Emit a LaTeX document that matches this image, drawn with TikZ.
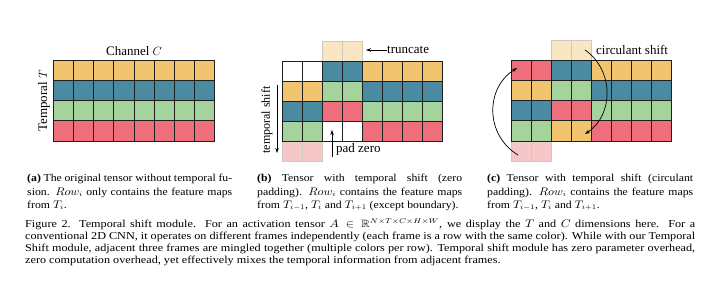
\documentclass[tikz,border=0pt]{standalone}
\usepackage{graphicx}
\usepackage{fontspec}
\setmainfont{Liberation Serif}
\usepackage{amssymb}
\usetikzlibrary{arrows.meta}
\definecolor{cY}{HTML}{F3C46F}
\definecolor{cB}{HTML}{4B8BA1}
\definecolor{cG}{HTML}{A4D49B}
\definecolor{cR}{HTML}{EE6E7B}
\definecolor{cW}{HTML}{FFFFFF}
\definecolor{fY}{HTML}{F9E6C2}
\definecolor{fR}{HTML}{F5C7C9}
\definecolor{gridc}{HTML}{1E1E1E}
\definecolor{fadec}{HTML}{CFC8BC}
\def\cw{20.1}
\newcommand\drawtensor[3]{%
  \foreach \c [count=\k from 0] in {#3}{%
    \pgfmathtruncatemacro\cx{mod(\k,8)}%
    \pgfmathtruncatemacro\ry{floor(\k/8)}%
    \filldraw[cellbox,fill=\c] ({#1+\cx*\cw},{#2+\ry*\cw}) rectangle ++(\cw,\cw);
  }}
\newcommand\fadecells[4]{% x0 y0 colour count
  \foreach \k in {1,...,#4}{%
    \filldraw[fadebox,fill=#3] ({#1+(\k-1)*\cw},{#2}) rectangle ++(\cw,\cw);
  }}
% caption lines: horizontally widened text, justified to a given width
\newcommand\subline[2]{\scalebox{1.11}[1]{\makebox[#1][s]{#2}}}
\newcommand\subnat[1]{\scalebox{1.11}[1]{#1}}
\newcommand\figline[1]{\scalebox{1.15}[1]{\makebox[582.6pt][s]{#1}}}
\newcommand\fignat[1]{\scalebox{1.15}[1]{#1}}
\tikzset{
  cellbox/.style={draw=gridc,line width=0.65pt},
  fadebox/.style={draw=fadec,line width=0.6pt},
  lbl/.style={inner sep=0pt,font=\fontsize{13}{15}\selectfont},
  subcap/.style={anchor=base west,inner sep=0pt,font=\fontsize{10.6}{13}\selectfont},
  figcap/.style={anchor=base west,inner sep=0pt,font=\fontsize{10.6}{13}\selectfont},
  arr/.style={-{Stealth[length=5pt,width=3.5pt]},line width=0.7pt,black}
}
\begin{document}
\begin{tikzpicture}[x=1pt,y=-1pt]
\useasboundingbox (0,0) rectangle (720,294);
\fill[white] (0,0) rectangle (720,294);
% ---------- panel (a)
\drawtensor{53.5}{60.5}{cY,cY,cY,cY,cY,cY,cY,cY,cB,cB,cB,cB,cB,cB,cB,cB,cG,cG,cG,cG,cG,cG,cG,cG,cR,cR,cR,cR,cR,cR,cR,cR}
\node[lbl] (chan) at (134,51) {Channel $C$};
\node[lbl,rotate=90] (temp) at (44,101) {Temporal $T$};
% ---------- panel (b)
\fadecells{322.2}{40.9}{fY}{2}
\fadecells{282}{141.4}{fR}{2}
\drawtensor{282}{61}{cW,cW,cB,cB,cY,cY,cY,cY,cY,cY,cG,cG,cB,cB,cB,cB,cB,cB,cR,cR,cG,cG,cG,cG,cG,cG,cW,cW,cR,cR,cR,cR}
\node[lbl,anchor=west] (trunc) at (387,50) {truncate};
\coordinate (truncend) at (366,50);
\draw[arr] (trunc.west) -- (truncend);
\node[lbl,anchor=west] (pad) at (336,149) {pad zero};
\coordinate (pz1) at (332,157);
\coordinate (pz2) at (332,130);
\draw[arr] (pz1) -- (pz2);
\node[inner sep=0pt,rotate=90,font=\fontsize{12}{14}\selectfont] (tshift) at (267,120) {temporal shift};
\coordinate (ts1) at (277,85);
\coordinate (ts2) at (277,153);
\draw[arr] (ts1) -- (ts2);
% ---------- panel (c)
\fadecells{551.2}{40.4}{fY}{2}
\fadecells{511}{140.9}{fR}{2}
\drawtensor{511}{60.5}{cR,cR,cB,cB,cY,cY,cY,cY,cY,cY,cG,cG,cB,cB,cB,cB,cB,cB,cR,cR,cG,cG,cG,cG,cG,cG,cY,cY,cR,cR,cR,cR}
\node[lbl,anchor=west] (circ) at (596,50) {circulant shift};
\coordinate (lb) at (518,155);
\coordinate (lt) at (517,68);
\draw[arr] (lb) .. controls (485,135) and (485,88) .. (lt);
\coordinate (rt) at (585,50);
\coordinate (rb) at (585,134);
\draw[arr] (rt) .. controls (614,70) and (614,115) .. (rb);
% ---------- sub captions
\node[subcap] (a1) at (27,181) {\subline{184.7pt}{\textbf{(a)} The original tensor without temporal fu-}};
\node[subcap] (a2) at (27,195) {\subline{184.7pt}{sion. $Row_i$ only contains the feature maps}};
\node[subcap] (a3) at (27,208) {\subnat{from $T_i$.}};
\node[subcap] (b1) at (257,181) {\subline{184.7pt}{\textbf{(b)} Tensor with temporal shift (zero}};
\node[subcap] (b2) at (257,195) {\subline{184.7pt}{padding). $Row_i$ contains the feature maps}};
\node[subcap] (b3) at (257,208) {\subnat{from $T_{i-1}$, $T_i$ and $T_{i+1}$ (except boundary).}};
\node[subcap] (c1) at (487,181) {\subline{185.6pt}{\textbf{(c)} Tensor with temporal shift (circulant}};
\node[subcap] (c2) at (487,195) {\subline{185.6pt}{padding). $Row_i$ contains the feature maps}};
\node[subcap] (c3) at (487,208) {\subnat{from $T_{i-1}$, $T_i$ and $T_{i+1}$.}};
% ---------- figure caption
\node[figcap] (f1) at (25,227.5) {\figline{Figure 2. Temporal shift module.\ \ For an activation tensor $A\in\mathbb{R}^{N\times T\times C\times H\times W}$, we display the $T$ and $C$ dimensions here.\ \ For a}};
\node[figcap] (f2) at (25,239.5) {\figline{conventional 2D CNN, it operates on different frames independently (each frame is a row with the same color). While with our Temporal}};
\node[figcap] (f3) at (25,251.5) {\figline{Shift module, adjacent three frames are mingled together (multiple colors per row). Temporal shift module has zero parameter overhead,}};
\node[figcap] (f4) at (25,263.5) {\fignat{zero computation overhead, yet effectively mixes the temporal information from adjacent frames.}};
\end{tikzpicture}
\end{document}
